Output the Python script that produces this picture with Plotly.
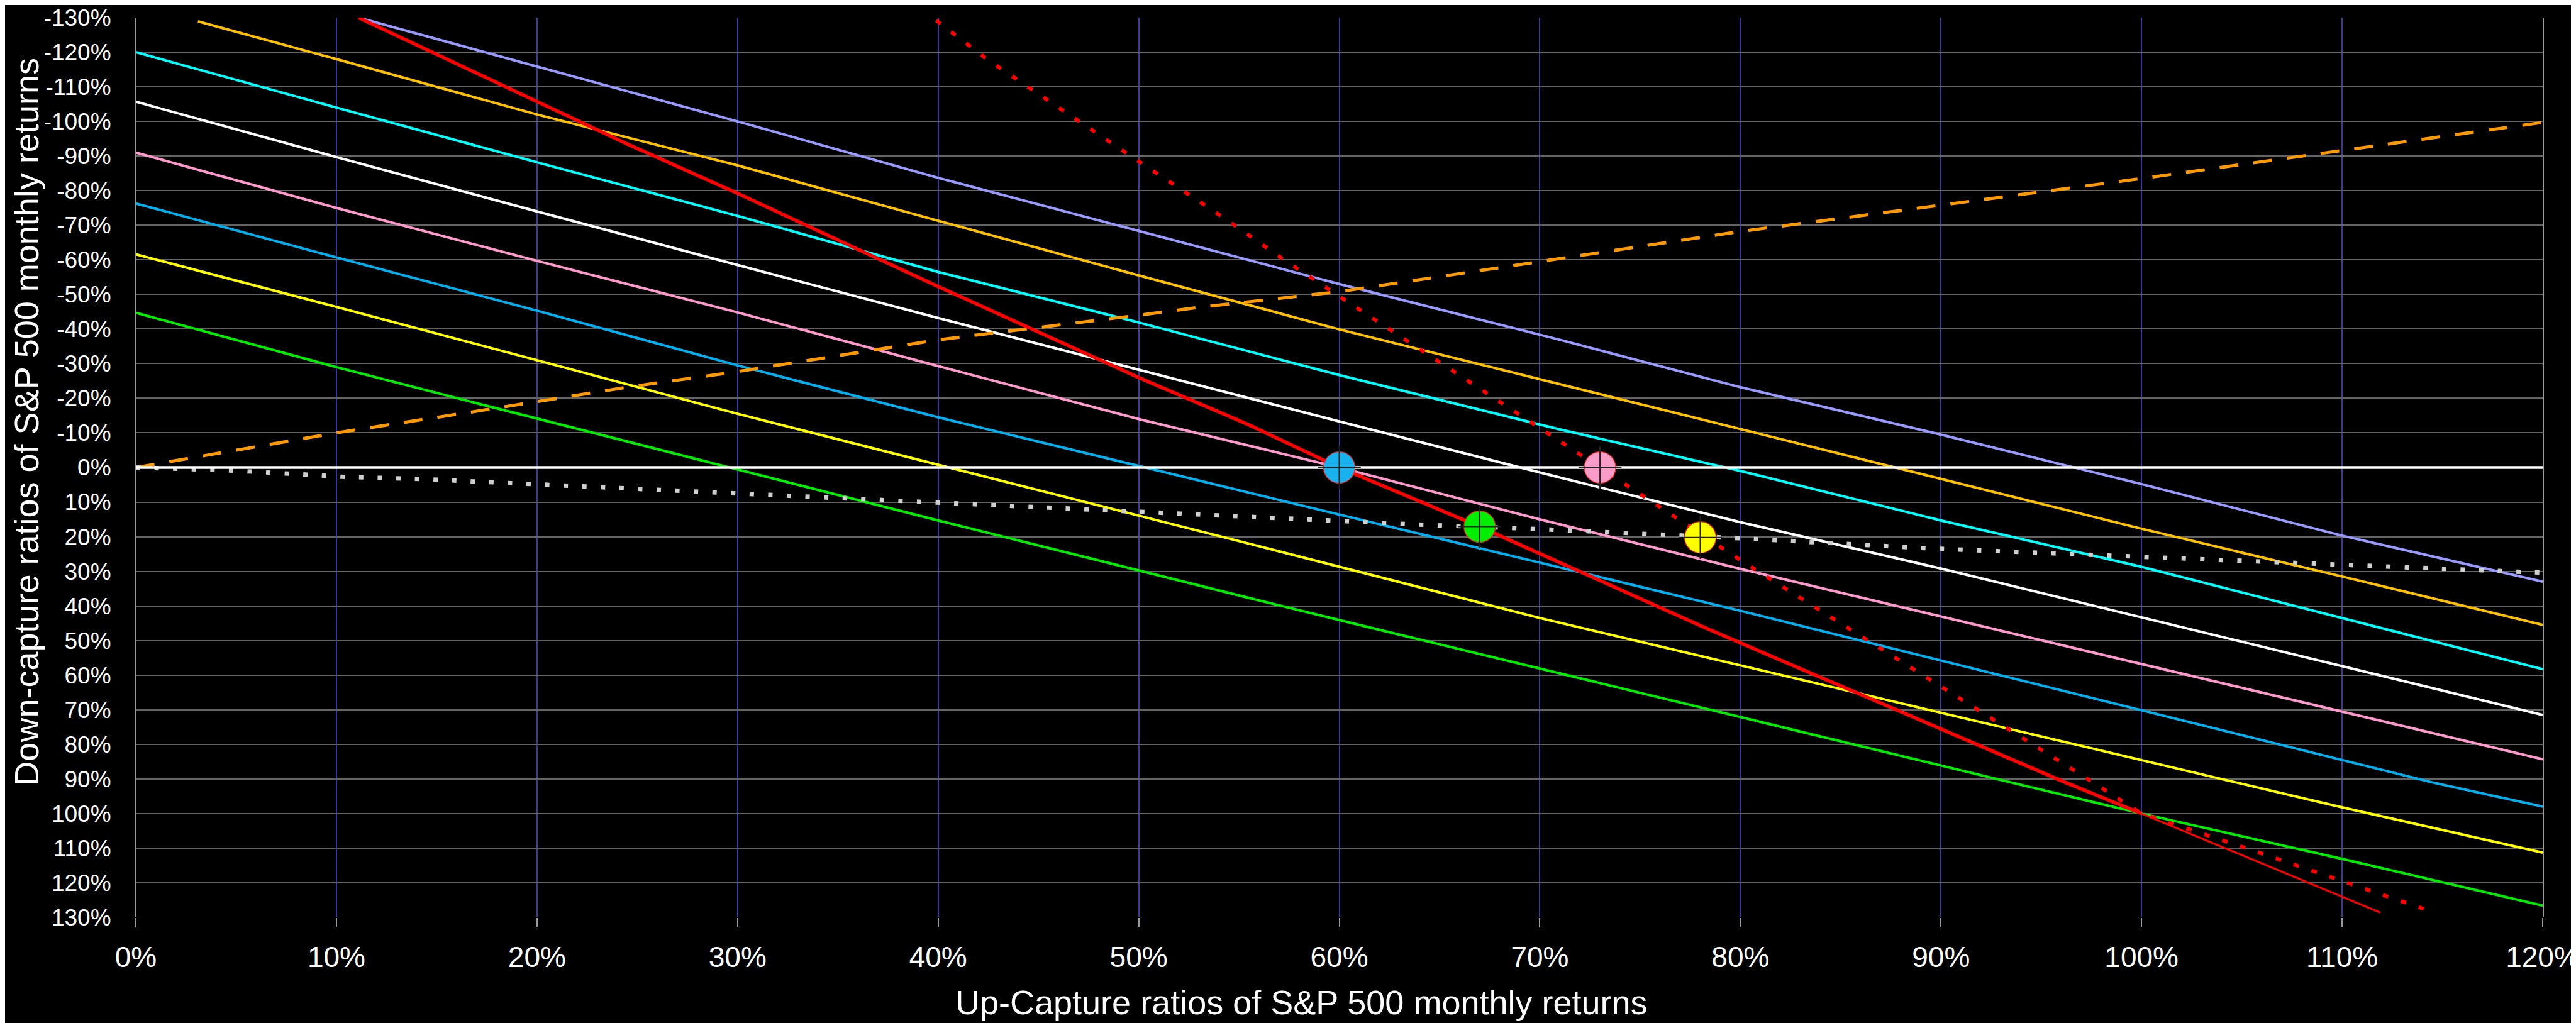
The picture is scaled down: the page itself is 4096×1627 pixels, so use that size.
import plotly.graph_objects as go

# ---------------- data (percent values) ----------------
x_ticks = [0, 10, 20, 30, 40, 50, 60, 70, 80, 90, 100, 110, 120]
x_tick_labels = ["0%", "10%", "20%", "30%", "40%", "50%", "60%", "70%", "80%",
                 "90%", "100%", "110%", "120%"]
y_ticks = [-130, -120, -110, -100, -90, -80, -70, -60, -50, -40, -30, -20, -10,
           0, 10, 20, 30, 40, 50, 60, 70, 80, 90, 100, 110, 120, 130]
y_tick_labels = ["-130%", "-120%", "-110%", "-100%", "-90%", "-80%", "-70%", "-60%",
                 "-50%", "-40%", "-30%", "-20%", "-10%", "0%", "10%", "20%", "30%",
                 "40%", "50%", "60%", "70%", "80%", "90%", "100%", "110%", "120%", "130%"]

purple_x = [11.1, 30, 40, 50, 60, 71, 80, 90, 100, 110, 120]
purple_y = [-130, -100, -83.7, -68.3, -53, -36.9, -23.2, -9.5, 4.8, 19.7, 33]

gold_x = [3.1, 10, 20, 30, 40, 50, 60, 71, 80, 90, 100, 110, 120]
gold_y = [-128.9, -118, -102, -87.3, -71.3, -55.5, -39.9, -24.1, -11, 3.3, 17.7, 31.5, 45.5]

cyan_x = [0, 10, 20, 30, 40, 50, 60, 71, 80, 90, 100, 110, 120]
cyan_y = [-120, -104, -88.2, -72.7, -56.5, -41.9, -26.7, -11, 1, 15.3, 28.7, 43.5, 58.3]

white_x = [0, 10, 20, 30, 40, 50, 60, 71, 80, 90, 120]
white_y = [-105.7, -89.7, -74, -58.5, -43.2, -28.3, -13.3, 2.9, 15.8, 29.2, 71.5]

pink_x = [0, 10, 20, 30, 40, 50, 60, 70, 80, 120]
pink_y = [-91, -75, -59.7, -44.8, -29.3, -14, 0, 15, 29.3, 84.3]

blue_x = [0, 10, 20, 30, 40, 55.5, 60, 70, 80, 114.5, 120]
blue_y = [-76.3, -60.7, -45.3, -29.5, -14.5, 7.4, 13.6, 27.5, 41.4, 91, 98]

yellow_x = [0, 10, 20, 24.5, 30, 55.5, 60, 70, 104.7, 110, 120]
yellow_y = [-61.6, -46.4, -31, -24, -15.5, 22, 28.7, 43.5, 91, 98.2, 111.3]

green_x = [0, 10, 16.7, 40, 55.5, 61.5, 94.2, 100, 110, 120]
green_y = [-44.7, -29, -19, 15.3, 37.7, 46.2, 92, 100, 113.1, 126.6]

red_x = [11.1, 24.5, 30, 40, 50, 55.5, 60, 67, 78.2, 96.2, 100]
red_y = [-130, -93.5, -79.2, -52.3, -26, -12.3, 0, 17.1, 46.2, 91, 100]
red_tail_x = [100, 111.9]
red_tail_y = [100, 128.6]

red_dot_x = [39.9, 42.4, 49.5, 54.2, 57.4, 65.2, 73, 77, 80.2, 97.8, 100, 104.8, 108.3, 114.7]
red_dot_y = [-129.2, -118.1, -90.4, -72.3, -59.4, -29.6, 0, 15.3, 27.5, 91.8, 100, 109.2, 116.1, 128.8]

orange_dash_x = [0, 10, 16.7, 24.5, 30, 40, 50, 52.9, 60, 70, 80, 90, 100, 110, 120]
orange_dash_y = [0, -10, -16, -23.2, -27.7, -36.9, -44, -46.2, -50.8, -59.6, -68.2, -75.8, -83.5, -91.6, -99.7]

white_dot_x = [0, 2.1, 4.9, 8.6, 10.3, 14.1, 19.7, 30, 35.7, 40, 50, 57, 64.4, 70, 76.5,
               80.2, 89.5, 102.5, 109, 118.8, 120]
white_dot_y = [0, 0.3, 0.9, 2.1, 2.7, 3.3, 4.8, 7.6, 9.1, 10, 12.8, 14.8, 16.6, 17.8, 19.6,
               20.5, 23.4, 26.3, 27.7, 30.1, 30.4]

zero_x = [0, 120]
zero_y = [0, 0]

marker_x = [60, 73, 67, 78]
marker_y = [0, 0, 17.1, 20.2]
marker_colors = ["#1ab2ee", "#f99cc8", "#00ee00", "#ffff00"]

# ---------------- figure ----------------
fig = go.Figure()

def solid(x, y, color, width=4):
    fig.add_trace(go.Scatter(x=x, y=y, mode="lines",
                             line=dict(color=color, width=width),
                             hoverinfo="skip", showlegend=False))

solid(purple_x, purple_y, "#9999ff")
solid(gold_x, gold_y, "#ffc000")
solid(cyan_x, cyan_y, "#00ffff")
solid(white_x, white_y, "#ffffff")
solid(pink_x, pink_y, "#ff99cc")
solid(blue_x, blue_y, "#00b0f0")
solid(yellow_x, yellow_y, "#ffff00")
solid(green_x, green_y, "#00ee00")

fig.add_trace(go.Scatter(x=orange_dash_x, y=orange_dash_y, mode="lines",
                         line=dict(color="#ff9900", width=5, dash="30px,24px"),
                         hoverinfo="skip", showlegend=False))
fig.add_trace(go.Scatter(x=white_dot_x, y=white_dot_y, mode="lines",
                         line=dict(color="#cfcfcf", width=7, dash="7px,22.6px"),
                         hoverinfo="skip", showlegend=False))
fig.add_trace(go.Scatter(x=red_dot_x, y=red_dot_y, mode="lines",
                         line=dict(color="#ff0000", width=6, dash="9px,21px"),
                         hoverinfo="skip", showlegend=False))
solid(red_x, red_y, "#ff0000", width=5.5)
solid(red_tail_x, red_tail_y, "#ff0000", width=3)
solid(zero_x, zero_y, "#ffffff", width=4.5)

fig.add_trace(go.Scatter(x=marker_x, y=marker_y, mode="markers",
                         marker=dict(symbol="circle", size=50, color=marker_colors,
                                     line=dict(color="#ff2020", width=1.2)),
                         hoverinfo="skip", showlegend=False))
fig.add_trace(go.Scatter(x=marker_x, y=marker_y, mode="markers",
                         marker=dict(symbol="cross-thin", size=49,
                                     line=dict(color="#202020", width=2)),
                         hoverinfo="skip", showlegend=False))

font_family = "Liberation Sans, Arial, sans-serif"

fig.update_layout(
    width=4096, height=1627,
    paper_bgcolor="#000000", plot_bgcolor="#000000",
    margin=dict(l=208, r=61, t=20, b=176, autoexpand=False),
    showlegend=False,
    font=dict(family=font_family, color="#ffffff"),
    xaxis=dict(
        range=[0, 120], tickmode="array", tickvals=x_ticks, ticktext=x_tick_labels,
        showgrid=True, gridcolor="#3a3a9e", gridwidth=1.5,
        zeroline=False, showline=False, automargin=False,
        ticks="outside", ticklen=15, tickwidth=2, tickcolor="#9a9a9a",
        ticklabelstandoff=8, ticklabeloverflow="allow",
        tickfont=dict(family=font_family, size=46, color="#ffffff"),
    ),
    yaxis=dict(
        range=[130, -130], tickmode="array", tickvals=y_ticks, ticktext=y_tick_labels,
        showgrid=True, gridcolor="#646464", gridwidth=2.2,
        zeroline=False, showline=True, linecolor="#9a9a9a", linewidth=2, mirror=True,
        automargin=False,
        ticks="", ticklabelstandoff=30, ticklabeloverflow="allow",
        tickfont=dict(family=font_family, size=37, color="#ffffff"),
    ),
    annotations=[
        dict(text="Up-Capture ratios of S&P 500 monthly returns", xref="paper", yref="paper",
             x=0.4842, y=-0.094, xanchor="center", yanchor="middle", showarrow=False,
             font=dict(family=font_family, size=54, color="#ffffff")),
        dict(text="Down-capture ratios of S&P 500 monthly returns", xref="paper", yref="paper",
             x=-0.0457, y=0.551, xanchor="center", yanchor="middle", showarrow=False,
             textangle=-90,
             font=dict(family=font_family, size=54, color="#ffffff")),
    ],
)

fig.write_html("out.html")
